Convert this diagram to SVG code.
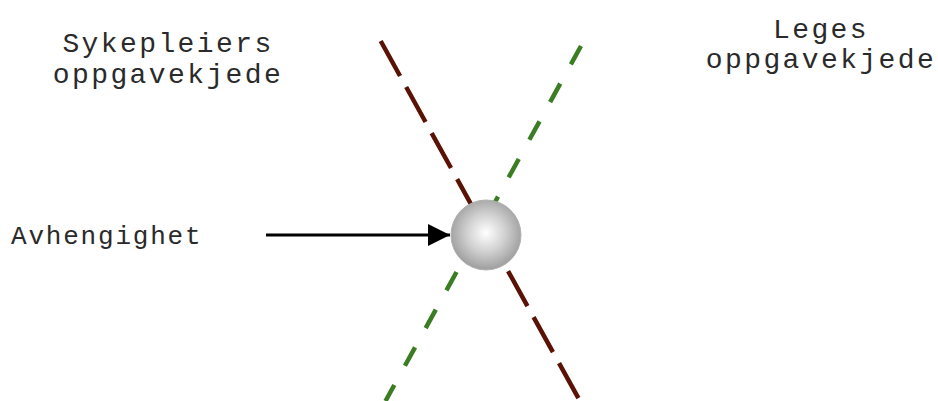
<svg xmlns="http://www.w3.org/2000/svg" width="938" height="401" viewBox="0 0 938 401">
  <defs>
    <radialGradient id="ball" cx="0.5" cy="0.47" r="0.55">
      <stop offset="0" stop-color="#ffffff"/>
      <stop offset="0.5" stop-color="#d0d0d0"/>
      <stop offset="1" stop-color="#9a9a9a"/>
    </radialGradient>
    <marker id="arrow" markerWidth="22" markerHeight="22" viewBox="0 0 22 22" refX="22" refY="11" orient="auto" markerUnits="userSpaceOnUse">
      <path d="M0,0 L22,11 L0,22 Z" fill="#000"/>
    </marker>
    <style>
      .lbl { font-family: "Liberation Mono", "Courier New", monospace; fill: #2a2a2a; text-anchor: middle; }
      .big { font-size: 28px; letter-spacing: 2.4px; }
      .small { font-size: 26px; letter-spacing: 1.8px; text-anchor: start; }
      .brown { stroke: #5a1205; stroke-width: 4.5; stroke-dasharray: 40 12.6; fill: none; }
      .green { stroke: #3b7d22; stroke-width: 4.5; stroke-dasharray: 21 22; fill: none; }
    </style>
  </defs>
  <rect width="938" height="401" fill="#fff"/>
  <g id="connectors">
    <line id="chain-sykepleier" class="brown" x1="380.7" y1="41" x2="580" y2="401"/>
    <line id="chain-lege" class="green" x1="581" y1="46" x2="385.5" y2="401"/>
    <line id="dependency-arrow" x1="266" y1="235" x2="450" y2="235" stroke="#000" stroke-width="3" marker-end="url(#arrow)"/>
  </g>
  <g id="node-dependency">
    <circle cx="486" cy="235" r="35" fill="url(#ball)" stroke="#b0b0b0" stroke-width="1"/>
  </g>
  <g id="label-sykepleier">
    <text class="lbl big" x="168" y="52">Sykepleiers</text>
    <text class="lbl big" x="168" y="83">oppgavekjede</text>
  </g>
  <g id="label-lege">
    <text class="lbl big" x="821" y="38">Leges</text>
    <text class="lbl big" x="821" y="68">oppgavekjede</text>
  </g>
  <g id="label-avhengighet">
    <text class="lbl small" x="11" y="244">Avhengighet</text>
  </g>
</svg>
